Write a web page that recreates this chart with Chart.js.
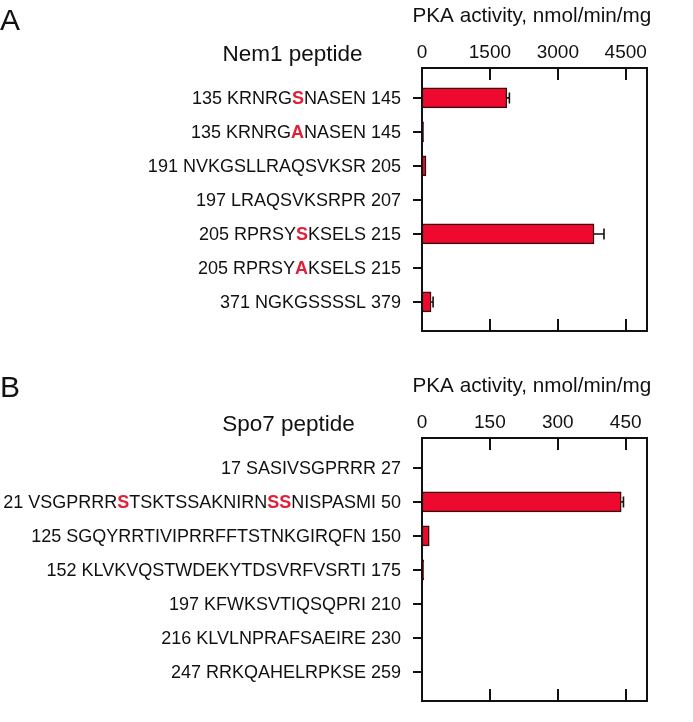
<!DOCTYPE html>
<html>
<head>
<meta charset="utf-8">
<script src="https://cdn.jsdelivr.net/npm/chart.js@4"></script>
<style>
  html, body { margin: 0; padding: 0; background: #fff; }
  #wrap { position: relative; width: 693px; height: 722px; overflow: hidden; }
  canvas { position: absolute; left: 0; top: 0; }
</style>
</head>
<body>
<div id="wrap">
  <canvas id="chartA" width="693" height="722"></canvas>
  <canvas id="chartB" width="693" height="722"></canvas>
</div>
<script>
// ---- Panel A data (Nem1 peptides) ----
const labelsA = [
  "135 KRNRG[S]NASEN 145",
  "135 KRNRG[A]NASEN 145",
  "191 NVKGSLLRAQSVKSR 205",
  "197 LRAQSVKSRPR 207",
  "205 RPRSY[S]KSELS 215",
  "205 RPRSY[A]KSELS 215",
  "371 NGKGSSSSL 379"
];
const valuesA = [1875, 35, 88, 0, 3800, 8, 200];
const errorsA = [55, 0, 0, 0, 220, 0, 45];
const ticksA = [0, 1500, 3000, 4500];
const maxA = 4970;

// ---- Panel B data (Spo7 peptides) ----
const labelsB = [
  "17 SASIVSGPRRR 27",
  "21 VSGPRRR[S]TSKTSSAKNIRN[SS]NISPASMI 50",
  "125 SGQYRRTIVIPRRFFTSTNKGIRQFN 150",
  "152 KLVKVQSTWDEKYTDSVRFVSRTI 175",
  "197 KFWKSVTIQSQPRI 210",
  "216 KLVLNPRAFSAEIRE 230",
  "247 RRKQAHELRPKSE 259"
];
const valuesB = [0, 440, 16, 4, 0, 0, 0];
const errorsB = [0, 5, 0, 0, 0, 0, 0];
const ticksB = [0, 150, 300, 450];
const maxB = 497;

const FONT = "'Liberation Sans', Arial, Helvetica, sans-serif";
const INK = '#111111';
const RED_TEXT = '#e2203a';
const BAR_FILL = '#ee0a2e';
const BAR_EDGE = '#3a0a0a';

function parseSegments(label) {
  const segs = [];
  const re = /\[([^\]]+)\]|([^\[]+)/g;
  let m;
  while ((m = re.exec(label)) !== null) {
    if (m[1]) segs.push({ t: m[1], red: true });
    else segs.push({ t: m[2], red: false });
  }
  return segs;
}

function makeChart(id, cfg) {
  const off = cfg.off; // vertical offset of the panel
  const overlay = {
    id: 'overlay' + id,
    afterDatasetsDraw(chart) {
      const ctx = chart.ctx;
      const ca = chart.chartArea;
      const xs = chart.scales.x;
      const ys = chart.scales.y;
      ctx.save();
      // error bars
      const meta = chart.getDatasetMeta(0);
      ctx.strokeStyle = INK;
      ctx.lineWidth = 1.6;
      cfg.values.forEach((v, i) => {
        const e = cfg.errors[i];
        if (!e) return;
        const el = meta.data[i];
        const x1 = xs.getPixelForValue(v);
        const x2 = xs.getPixelForValue(v + e);
        const y = el.y;
        ctx.beginPath();
        ctx.moveTo(x1, y); ctx.lineTo(x2, y);
        ctx.moveTo(x2, y - 5.5); ctx.lineTo(x2, y + 5.5);
        ctx.stroke();
      });
      // box
      ctx.lineWidth = 2;
      ctx.strokeStyle = INK;
      ctx.strokeRect(ca.left, ca.top, ca.right - ca.left, ca.bottom - ca.top);
      // inward ticks top and bottom
      xs.ticks.forEach((t) => {
        const px = Math.round(xs.getPixelForValue(t.value));
        if (Math.abs(px - ca.left) < 2) return;
        ctx.beginPath();
        ctx.moveTo(px, ca.top); ctx.lineTo(px, ca.top + 12);
        ctx.moveTo(px, ca.bottom); ctx.lineTo(px, ca.bottom - 12);
        ctx.stroke();
      });
      // category labels with highlighted residues
      ctx.textBaseline = 'middle';
      ctx.textAlign = 'left';
      const normal = '18px ' + FONT;
      const bold = 'bold 18px ' + FONT;
      cfg.labels.forEach((lab, i) => {
        const segs = parseSegments(lab);
        let total = 0;
        segs.forEach(s => { ctx.font = s.red ? bold : normal; s.w = ctx.measureText(s.t).width; total += s.w; });
        let x = 401 - total;
        const y = ys.getPixelForValue(i) + 1;
        segs.forEach(s => {
          ctx.font = s.red ? bold : normal;
          ctx.fillStyle = s.red ? RED_TEXT : INK;
          ctx.fillText(s.t, x, y);
          x += s.w;
        });
      });
      // titles
      ctx.textBaseline = 'alphabetic';
      ctx.fillStyle = INK;
      ctx.font = '30px ' + FONT;
      ctx.textAlign = 'left';
      ctx.fillText(cfg.letter, 0, cfg.letterBase);
      ctx.font = '22.5px ' + FONT;
      ctx.textAlign = 'center';
      ctx.fillText(cfg.title, cfg.titleX, 61 + off);
      ctx.font = '20.7px ' + FONT;
      ctx.textAlign = 'left';
      ctx.fillText('PKA activity, nmol/min/mg', 412.5, 21.7 + off);
      ctx.restore();
    }
  };

  return new Chart(document.getElementById(id), {
    type: 'bar',
    data: {
      datasets: [{
        data: cfg.values.map((v, i) => ({ x: v, y: i })),
        backgroundColor: BAR_FILL,
        borderColor: BAR_EDGE,
        borderWidth: 1.5,
        borderSkipped: false,
        barThickness: 20
      }]
    },
    options: {
      indexAxis: 'y',
      responsive: false,
      animation: false,
      devicePixelRatio: 1,
      layout: { padding: { left: 0, right: 46, top: off, bottom: 722 - (331 + off) } },
      plugins: { legend: { display: false }, tooltip: { enabled: false }, title: { display: false } },
      scales: {
        x: {
          type: 'linear',
          position: 'top',
          min: 0,
          max: cfg.max,
          offset: false,
          afterBuildTicks: (s) => { s.ticks = cfg.ticks.map(v => ({ value: v })); },
          afterFit: (s) => { s.height = 68; },
          ticks: {
            font: { family: FONT, size: 19 },
            color: INK,
            padding: 4,
            maxRotation: 0,
            autoSkip: false,
            callback: (v) => String(v)
          },
          grid: { display: false, drawTicks: false, offset: false },
          border: { display: false }
        },
        y: {
          type: 'linear',
          min: -0.88,
          max: 6.855,
          reverse: true,
          offset: false,
          afterBuildTicks: (s) => { s.ticks = cfg.labels.map((_, i) => ({ value: i })); },
          afterFit: (s) => { s.width = 422; },
          ticks: { callback: () => '', padding: 0 },
          grid: { display: true, offset: false, drawOnChartArea: false, drawTicks: true, tickLength: 9, color: INK, lineWidth: 2 },
          border: { display: false }
        }
      }
    },
    plugins: [overlay]
  });
}

makeChart('chartA', {
  off: 0, values: valuesA, errors: errorsA, labels: labelsA, ticks: ticksA, max: maxA,
  letter: 'A', letterBase: 30, title: 'Nem1 peptide', titleX: 292.5
});
makeChart('chartB', {
  off: 370, values: valuesB, errors: errorsB, labels: labelsB, ticks: ticksB, max: maxB,
  letter: 'B', letterBase: 397, title: 'Spo7 peptide', titleX: 288.5
});
</script>
</body>
</html>
